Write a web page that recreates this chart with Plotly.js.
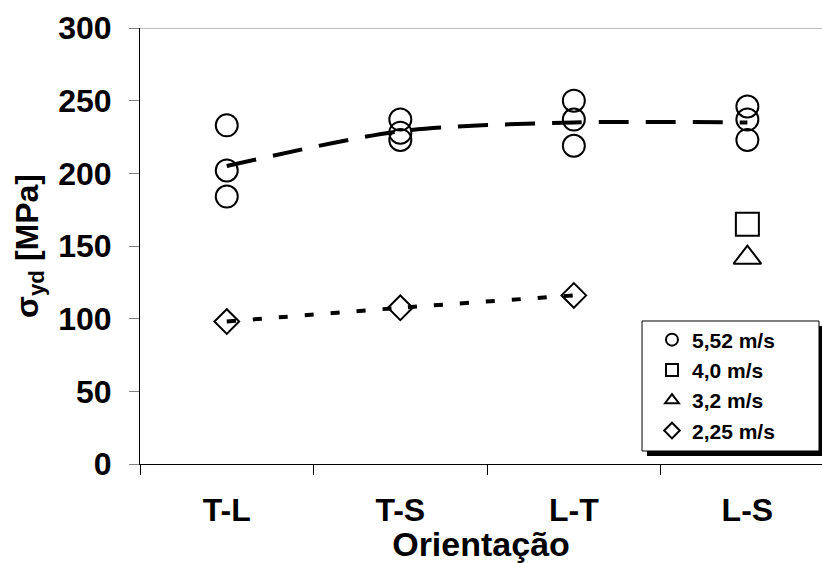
<!DOCTYPE html>
<html>
<head>
<meta charset="utf-8">
<script src="https://cdn.plot.ly/plotly-3.0.1.min.js"></script>
<style>html,body{margin:0;padding:0;background:#fff;}#chart{width:822px;height:563px;}</style>
</head>
<body>
<div id="chart"></div>
<script>
// Categories (orientation)
const orientations = ["T-L", "T-S", "L-T", "L-S"];

// 5,52 m/s : three specimens per orientation
const x552 = ["T-L","T-L","T-L","T-S","T-S","T-S","L-T","L-T","L-T","L-S","L-S","L-S"];
const y552 = [233, 202, 184, 237, 228, 223, 250, 237, 219, 246, 237, 223];

// 4,0 m/s
const x40 = ["L-S"];
const y40 = [165];

// 3,2 m/s
const x32 = ["L-S"];
const y32 = [142];

// 2,25 m/s
const x225 = ["T-L", "T-S", "L-T"];
const y225 = [98, 107.5, 116];

// trend line through the 5,52 m/s results
const trend552 = [205, 229, 235, 235];

// y axis ticks
const yTicks = [0, 50, 100, 150, 200, 250, 300];

const FONT = "Liberation Sans, Arial, sans-serif";

const traces = [
  {
    x: orientations, y: trend552, type: "scatter", mode: "lines",
    line: {color: "#000", width: 4, dash: "30px,17px", shape: "spline", smoothing: 0.8},
    showlegend: false, hoverinfo: "skip"
  },
  {
    x: x225, y: y225, type: "scatter", mode: "lines",
    line: {color: "#000", width: 4, dash: "9px,17px", shape: "spline", smoothing: 0.8},
    showlegend: false, hoverinfo: "skip"
  },
  {
    name: "5,52 m/s", x: x552, y: y552, type: "scatter", mode: "markers",
    marker: {symbol: "circle-open", size: 22, color: "#000", line: {width: 2, color: "#000"}}
  },
  {
    name: "4,0 m/s", x: x40, y: y40, type: "scatter", mode: "markers",
    marker: {symbol: "square-open", size: 23, color: "#000", line: {width: 2, color: "#000"}}
  },
  {
    name: "3,2 m/s", x: x32, y: y32, type: "scatter", mode: "markers",
    marker: {symbol: "triangle-up-open", size: 24, color: "#000", line: {width: 2, color: "#000"}}
  },
  {
    name: "2,25 m/s", x: x225, y: y225, type: "scatter", mode: "markers",
    marker: {symbol: "diamond-open", size: 19, color: "#000", line: {width: 2, color: "#000"}}
  }
];

const layout = {
  width: 822, height: 563,
  margin: {l: 140, r: 0, t: 28, b: 99, pad: 0},
  paper_bgcolor: "#fff", plot_bgcolor: "#fff",
  font: {family: FONT, color: "#000"},
  showlegend: true,
  xaxis: {
    type: "category",
    categoryorder: "array", categoryarray: orientations,
    range: [-0.5, 3.43],
    tickson: "boundaries",
    ticks: "outside", ticklen: 10, tickcolor: "#000", tickwidth: 1,
    showline: true, linecolor: "#000", linewidth: 1,
    showgrid: false, zeroline: false,
    ticklabelstandoff: 18,
    tickfont: {family: FONT, size: 32, weight: "bold", color: "#000"},
    title: {text: "Orientação", font: {family: FONT, size: 34, weight: "bold", color: "#000"}}
  },
  yaxis: {
    range: [0, 300],
    tickvals: yTicks,
    ticks: "outside", ticklen: 10, tickcolor: "#808080", tickwidth: 1,
    showline: true, linecolor: "#000", linewidth: 1,
    showgrid: false, zeroline: false,
    ticklabelstandoff: 11,
    tickfont: {family: FONT, size: 32, weight: "bold", color: "#000"},
    title: {text: "σ<sub>yd</sub> [MPa]", font: {family: FONT, size: 32, weight: "bold", color: "#000"}, standoff: 10}
  },
  legend: {
    x: 0.7507, y: 0.3314, xanchor: "left", yanchor: "top",
    bgcolor: "rgba(0,0,0,0)", borderwidth: 0,
    itemsizing: "constant",
    font: {family: FONT, size: 21, weight: "bold", color: "#000"},
    tracegroupgap: 0
  },
  shapes: [
    {type: "line", xref: "paper", yref: "y", x0: -0.0147, x1: 1, y0: 300, y1: 300,
     line: {color: "#808080", width: 1}, layer: "below"},
    // legend shadow
    {type: "rect", xref: "paper", yref: "paper", x0: 0.7434, x1: 1.01, y0: 0.0183, y1: 0.3165,
     fillcolor: "#000", line: {width: 0}, layer: "above"},
    // legend box
    {type: "rect", xref: "paper", yref: "paper", x0: 0.7361, x1: 0.9956, y0: 0.0298, y1: 0.328,
     fillcolor: "#fff", line: {width: 1, color: "#000"}, layer: "above"}
  ]
};

Plotly.newPlot("chart", traces, layout, {displayModeBar: false, staticPlot: true});
</script>
</body>
</html>
